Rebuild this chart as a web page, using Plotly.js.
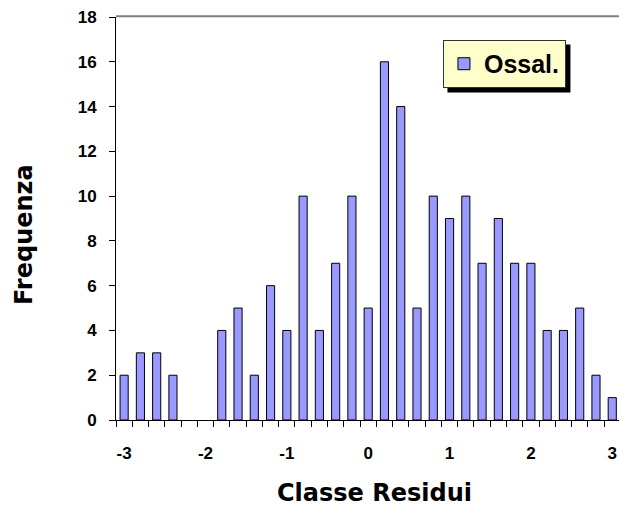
<!DOCTYPE html>
<html>
<head>
<meta charset="utf-8">
<script src="https://cdn.plot.ly/plotly-3.0.1.min.js"></script>
<style>html,body{margin:0;padding:0;background:#fff;}#chart{width:619px;height:506px;}</style>
</head>
<body>
<div id="chart"></div>
<script>
// Bin centres of the residual classes (width 0.2)
const classes = [-3.0,-2.8,-2.6,-2.4,-2.2,-2.0,-1.8,-1.6,-1.4,-1.2,-1.0,-0.8,-0.6,-0.4,-0.2,0.0,0.2,0.4,0.6,0.8,1.0,1.2,1.4,1.6,1.8,2.0,2.2,2.4,2.6,2.8,3.0];
const frequencies = [2,3,3,2,0,0,4,5,2,6,4,10,4,7,10,5,16,14,5,10,9,10,7,9,7,7,4,4,5,2,1];
const tickValues = [-3,-2,-1,0,1,2,3];
const tickLabels = ['-3','-2','-1','0','1','2','3'];
const seriesName = 'Ossal.';
const xTitle = 'Classe Residui';
const yTitle = 'Frequenza';

const fontFam = 'Liberation Sans, Arial, Helvetica, sans-serif';
const titleFam = 'DejaVu Sans, Liberation Sans, Arial, sans-serif';

const trace = {
  type: 'bar',
  x: classes,
  y: frequencies,
  name: seriesName,
  width: 0.1,
  marker: {color: '#9999FF', line: {color: '#000000', width: frequencies.map(v => v > 0 ? 1 : 0)}},
  showlegend: true
};

const layout = {
  width: 619, height: 506,
  margin: {l: 116, r: 0, t: 17, b: 86},
  paper_bgcolor: '#ffffff', plot_bgcolor: '#ffffff',
  font: {family: fontFam, color: '#000', size: 17},
  showlegend: true,
  legend: {
    x: 0.65, y: 0.943, xanchor: 'left', yanchor: 'top',
    bgcolor: '#FFFFCC', bordercolor: '#333333', borderwidth: 1,
    font: {family: fontFam, size: 25, weight: 700, color: '#000'}
  },
  xaxis: {
    range: [-3.1, 3.083],
    tickvals: tickValues, ticktext: tickLabels,
    ticks: '', showgrid: false, zeroline: false,
    showline: true, linecolor: '#000', linewidth: 1,
    ticklabelstandoff: 18,
    tickfont: {family: fontFam, size: 17, weight: 700},
    minor: {tick0: -3.1, dtick: 0.2, ticks: 'outside', ticklen: 6, tickcolor: '#000', tickwidth: 1, showgrid: false}
  },
  yaxis: {
    range: [0, 18], dtick: 2, tick0: 0,
    ticks: 'outside', ticklen: 6, tickcolor: '#000',
    showgrid: false, zeroline: false,
    showline: true, linecolor: '#000', linewidth: 1,
    ticklabelstandoff: 9,
    tickfont: {family: fontFam, size: 17, weight: 700}
  },
  annotations: [
    {text: xTitle, xref: 'paper', yref: 'paper', x: (374 - 116) / 503, y: (420 - 493) / 403,
     xanchor: 'center', yanchor: 'middle', showarrow: false,
     font: {family: titleFam, size: 24, weight: 700, color: '#000'}},
    {text: yTitle, xref: 'paper', yref: 'paper', x: (24 - 116) / 503, y: (420 - 235) / 403,
     xanchor: 'center', yanchor: 'middle', textangle: -90, showarrow: false,
     font: {family: titleFam, size: 24, weight: 700, color: '#000'}}
  ],
  shapes: [
    {type: 'line', xref: 'paper', yref: 'paper', x0: 0, x1: 1, y0: 1.002, y1: 1.002, line: {color: '#808080', width: 2}}
  ]
};

Plotly.newPlot('chart', [trace], layout, {displayModeBar: false, staticPlot: true}).then(function (gd) {
  // drop shadow behind the legend box, offset 4px right/down
  const bg = gd.querySelector('.legend .bg');
  const chartBox = gd.getBoundingClientRect();
  const b = bg.getBoundingClientRect();
  const fs = gd._fullLayout._size;
  const px = v => (v - chartBox.left - fs.l) / fs.w;
  const py = v => 1 - (v - chartBox.top - fs.t) / fs.h;
  const shadow = {type: 'rect', xref: 'paper', yref: 'paper',
    x0: px(b.left + 4), x1: px(b.right + 5), y0: py(b.top + 4), y1: py(b.bottom + 5),
    fillcolor: '#000', line: {width: 0}, layer: 'above'};
  return Plotly.relayout(gd, {shapes: layout.shapes.concat([shadow])});
});
</script>
</body>
</html>
